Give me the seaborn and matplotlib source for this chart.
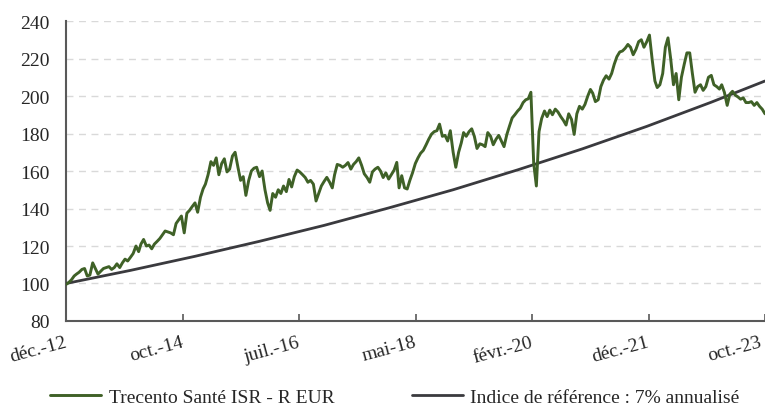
import matplotlib
matplotlib.use("Agg")
import matplotlib.pyplot as plt
import matplotlib.transforms as mtransforms
import seaborn as sns
import pandas as pd
import numpy as np

sns.set_theme(style="white")
plt.rcParams["font.family"] = ["Liberation Serif", "DejaVu Serif"]

# fund values, read every half month from Dec 2012 to Oct 2023
fund_name = "Trecento Santé ISR - R EUR"
fund_values = [
    99.5, 100.5, 102, 104, 105, 106, 107.5, 108, 104, 104.5,
    111, 108, 105, 106.5, 108, 108.5, 109, 107.5, 108.5, 110.5,
    108.5, 111, 113, 112, 114, 116, 120, 117, 121, 123.5,
    120, 120.5, 118.5, 121, 122.5, 124, 126, 128, 127.5, 127,
    126, 132, 134, 136, 127, 137.5, 139, 141, 143, 138,
    146, 150.5, 153, 158, 165, 163, 167, 158, 164, 166.5,
    159.5, 161, 168, 170, 162, 155, 157, 147, 155, 160,
    161.5, 162, 157, 160, 150, 143, 139, 148, 146, 150,
    148, 152, 149, 155.5, 151.5, 157, 160.5, 159.5, 158, 156.5,
    154, 155, 153, 144, 148, 152, 154.5, 156.6, 154, 151,
    158, 163.5, 163, 162, 163, 164.5, 161, 163.5, 165, 167,
    163, 158.5, 156.5, 154, 159.5, 161, 162, 160, 156.5, 159,
    155.7, 158, 160.5, 164.6, 151, 157.5, 151, 150.4, 155, 159,
    164, 167, 169.5, 171, 174, 177, 179.7, 181, 181.5, 185,
    178.5, 179, 176, 181.5, 170, 162, 170, 175, 180.5, 178.5,
    181, 182.5, 178.5, 172, 174.5, 174, 173, 180.5, 178.5, 174,
    177, 179, 176, 173, 179.5, 184, 188.3, 190, 192, 193.5,
    196.5, 198, 198.5, 202, 164, 152, 181, 188, 192, 189,
    192.5, 190, 193, 191.5, 189, 187, 184.5, 190.5, 187.5, 179.5,
    190.5, 194.5, 193, 195.5, 200, 203.5, 201.5, 197, 198, 205,
    208.5, 210.8, 209, 212, 217, 221, 223.5, 224, 225.5, 227.5,
    226, 222, 225, 229, 230, 226, 229, 232.5, 219, 208,
    204.5, 206, 212, 226, 231, 220, 206, 212, 198, 210,
    217, 223, 223, 212, 202, 205, 206, 203, 205, 210,
    211, 206, 205, 203.7, 206, 202, 195, 201, 202.5, 200.5,
    199.5, 198.3, 199, 196.5, 196.5, 197, 195, 196.5, 194.5, 193,
    190.5,
]

# benchmark (7% a year), read at each year end
bench_name = "Indice de référence : 7% annualisé"
bench_dates = ["2012-12-31", "2013-12-31", "2014-12-31", "2015-12-31",
               "2016-12-31", "2017-12-31", "2018-12-31", "2019-12-31",
               "2020-12-31", "2021-12-31", "2022-12-31", "2023-10-31"]
bench_values = [100, 107, 114.5, 122.5, 131, 140.3, 150, 160.6, 171.8,
                183.8, 196.7, 208]

tick_labels = ["déc.-12", "oct.-14", "juil.-16", "mai-18", "févr.-20",
               "déc.-21", "oct.-23"]

start, end = pd.Timestamp("2012-12-31"), pd.Timestamp("2023-10-31")
try:
    fund_dates = pd.date_range(start, end, freq="SME")
except ValueError:
    fund_dates = pd.date_range(start, end, freq="SM")

df_fund = pd.DataFrame({"date": fund_dates[:len(fund_values)], "value": fund_values})
df_bench = pd.DataFrame({"date": pd.to_datetime(bench_dates), "value": bench_values})

fig = plt.figure(figsize=(7.65, 4.06), dpi=100)
ax = fig.add_axes([0.0863, 0.2069, 0.9137, 0.7389])

sns.lineplot(data=df_bench, x="date", y="value", ax=ax, color="#3a3a3e",
             linewidth=2.0, label=bench_name, zorder=3)
sns.lineplot(data=df_fund, x="date", y="value", ax=ax, color="#3f6127",
             linewidth=2.1, label=fund_name, zorder=4)

ax.set_xlim(start, end)
ax.set_ylim(80, 240)
ax.set_yticks(range(80, 241, 20))
ticks = [start + (end - start) * k / 6 for k in range(7)]
ax.set_xticks(ticks)
ax.set_xticklabels(tick_labels, rotation=15, ha="right", va="top",
                   rotation_mode="anchor")
ax.set_xlabel("")
ax.set_ylabel("")

for y in range(100, 241, 20):
    ax.axhline(y, color="#d9d9d9", linestyle=(0, (5, 4)), linewidth=1.0, zorder=1)

for s in ["top", "right"]:
    ax.spines[s].set_visible(False)
for s in ["left", "bottom"]:
    ax.spines[s].set_color("#595959")
    ax.spines[s].set_linewidth(1.5)

ax.tick_params(axis="x", direction="in", length=5, width=1.2, color="#595959",
               labelsize=14, pad=9, bottom=True)
ax.tick_params(axis="y", length=0, labelsize=14, pad=12)

# nudge the slanted date labels a little to the left, the last one more
xlabels = ax.get_xticklabels()
for i, lab in enumerate(xlabels):
    dx = -6 if i == len(xlabels) - 1 else -2
    shift = mtransforms.ScaledTranslation(dx / 100, 0, fig.dpi_scale_trans)
    lab.set_transform(lab.get_transform() + shift)

ax.get_legend().remove()
h, l = ax.get_legend_handles_labels()
order = [1, 0]
fig.legend([h[i] for i in order], [l[i] for i in order], loc="lower left",
           bbox_to_anchor=(0.043, -0.045), ncol=2, frameon=False, fontsize=14,
           handlelength=2.6, handletextpad=0.4, columnspacing=4.0)

fig.savefig("out.png", dpi=100)
